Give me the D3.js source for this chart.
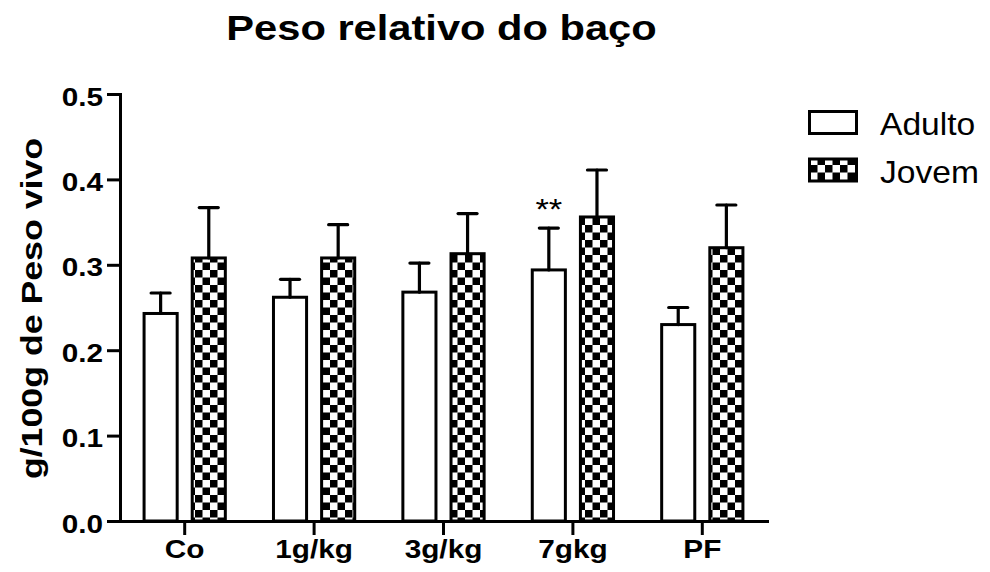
<!DOCTYPE html>
<html>
<head>
<meta charset="utf-8">
<script src="https://cdn.jsdelivr.net/npm/d3@7"></script>
<style>
  html, body { margin: 0; padding: 0; background: #fff; }
  svg { display: block; font-family: "Liberation Sans", Arial, sans-serif; }
</style>
</head>
<body>
<svg id="chart" width="990" height="572"></svg>
<script>
// Relative spleen weight (g/100 g body weight), mean with upper error bar
const categories = ["Co", "1g/kg", "3g/kg", "7gkg", "PF"];
const seriesNames = ["Adulto", "Jovem"];
const adultoMean = [0.243, 0.262, 0.268, 0.294, 0.230];
const adultoErr  = [0.024, 0.021, 0.034, 0.049, 0.020];
const jovemMean  = [0.308, 0.308, 0.313, 0.356, 0.320];
const jovemErr   = [0.059, 0.039, 0.047, 0.055, 0.050];
const yTicks = [0.0, 0.1, 0.2, 0.3, 0.4, 0.5];
const significance = [{ category: "7gkg", series: "Adulto", text: "**" }];

const rows = [];
categories.forEach((c, i) => {
  rows.push({ category: c, series: "Adulto", value: adultoMean[i], err: adultoErr[i] });
  rows.push({ category: c, series: "Jovem", value: jovemMean[i], err: jovemErr[i] });
});

const svg = d3.select("#chart");
const stretch = 1.19;   // wide glyph proportions of the labels

svg.append("rect").attr("width", 990).attr("height", 572).attr("fill", "#fff");

// checkerboard fill for the second series
const defs = svg.append("defs");
const pat = defs.append("pattern").attr("id", "checker")
  .attr("patternUnits", "userSpaceOnUse").attr("width", 15).attr("height", 15);
pat.append("rect").attr("width", 15).attr("height", 15).attr("fill", "#fff");
pat.append("rect").attr("width", 7.5).attr("height", 7.5).attr("fill", "#000");
pat.append("rect").attr("x", 7.5).attr("y", 7.5).attr("width", 7.5).attr("height", 7.5).attr("fill", "#000");

const fills = { Adulto: "#fff", Jovem: "url(#checker)" };

const x0 = d3.scaleBand().domain(categories).range([120, 767]).padding(0);
const x1 = d3.scaleBand().domain(seriesNames).range([0, x0.bandwidth()])
  .paddingInner(0.3125).paddingOuter(0.5);
const y = d3.scaleLinear().domain([0, 0.5]).range([521, 94]);

function stretchText(sel, anchorX, anchorY, s) {
  sel.attr("x", 0).attr("y", 0)
    .attr("transform", `translate(${anchorX},${anchorY}) scale(${s},1)`);
}

// bars
const g = svg.append("g");
g.selectAll("rect.bar").data(rows).join("rect")
  .attr("class", "bar")
  .attr("x", d => x0(d.category) + x1(d.series))
  .attr("y", d => y(d.value))
  .attr("width", x1.bandwidth())
  .attr("height", d => y(0) - y(d.value))
  .attr("fill", d => fills[d.series])
  .attr("stroke", "#000").attr("stroke-width", 3);

// upper error bars
const eb = g.selectAll("g.err").data(rows).join("g").attr("class", "err")
  .attr("stroke", "#000").attr("stroke-width", 3.2).attr("stroke-linecap", "round");
eb.append("line")
  .attr("x1", d => x0(d.category) + x1(d.series) + x1.bandwidth() / 2)
  .attr("x2", d => x0(d.category) + x1(d.series) + x1.bandwidth() / 2)
  .attr("y1", d => y(d.value))
  .attr("y2", d => y(d.value + d.err));
eb.append("line")
  .attr("x1", d => x0(d.category) + x1(d.series) + x1.bandwidth() / 2 - 9.5)
  .attr("x2", d => x0(d.category) + x1(d.series) + x1.bandwidth() / 2 + 9.5)
  .attr("y1", d => y(d.value + d.err))
  .attr("y2", d => y(d.value + d.err));

// significance marks
significance.forEach(s => {
  const r = rows.find(d => d.category === s.category && d.series === s.series);
  svg.append("text").text(s.text)
    .attr("text-anchor", "middle")
    .attr("font-size", 30)
    .attr("fill", "#000")
    .call(t => stretchText(t, x0(r.category) + x1(r.series) + x1.bandwidth() / 2,
                           y(r.value + r.err) - 9, 1.15));
});

// y axis
const yAxis = svg.append("g").attr("transform", "translate(120,0)")
  .call(d3.axisLeft(y).tickValues(yTicks).tickFormat(d3.format(".1f"))
    .tickSize(13).tickSizeOuter(0).tickPadding(4));
yAxis.select(".domain").attr("stroke-width", 3).attr("stroke-linecap", "square");
yAxis.selectAll(".tick line").attr("stroke-width", 3);
yAxis.selectAll(".tick text")
  .attr("font-size", 25).attr("font-weight", "bold").attr("fill", "#000")
  .attr("font-family", "'Liberation Sans', Arial, sans-serif")
  .attr("dy", null)
  .each(function () { stretchText(d3.select(this), -17, 11, stretch); });

// x axis
const xAxis = svg.append("g").attr("transform", `translate(0,${y(0)})`)
  .call(d3.axisBottom(x0).tickSize(14).tickSizeOuter(0).tickPadding(4));
xAxis.select(".domain").attr("stroke-width", 3).attr("stroke-linecap", "square");
xAxis.selectAll(".tick line").attr("stroke-width", 3);
xAxis.selectAll(".tick text")
  .attr("font-size", 25).attr("font-weight", "bold").attr("fill", "#000")
  .attr("font-family", "'Liberation Sans', Arial, sans-serif")
  .attr("dy", null)
  .each(function () { stretchText(d3.select(this), 0, 37, stretch); });

// axis title
svg.append("text").text("g/100g de Peso vivo")
  .attr("text-anchor", "middle").attr("font-size", 30).attr("font-weight", "bold")
  .attr("x", 0).attr("y", 0)
  .attr("transform", `translate(42,${(94 + 521) / 2 + 1}) rotate(-90) scale(${stretch},1)`);

// chart title
svg.append("text").text("Peso relativo do baço")
  .attr("text-anchor", "middle").attr("font-size", 35).attr("font-weight", "bold")
  .call(t => stretchText(t, 441.5, 40, stretch));

// legend
const legend = svg.append("g");
seriesNames.forEach((s, i) => {
  const ly = 111.5 + i * 47.5;
  legend.append("rect").attr("x", 809.5).attr("y", ly).attr("width", 47).attr("height", 22)
    .attr("fill", fills[s]).attr("stroke", "#000").attr("stroke-width", 3);
  legend.append("text").text(s).attr("font-size", 32)
    .call(t => stretchText(t, 880, ly + 23.5, 1.05));
});
</script>
</body>
</html>
